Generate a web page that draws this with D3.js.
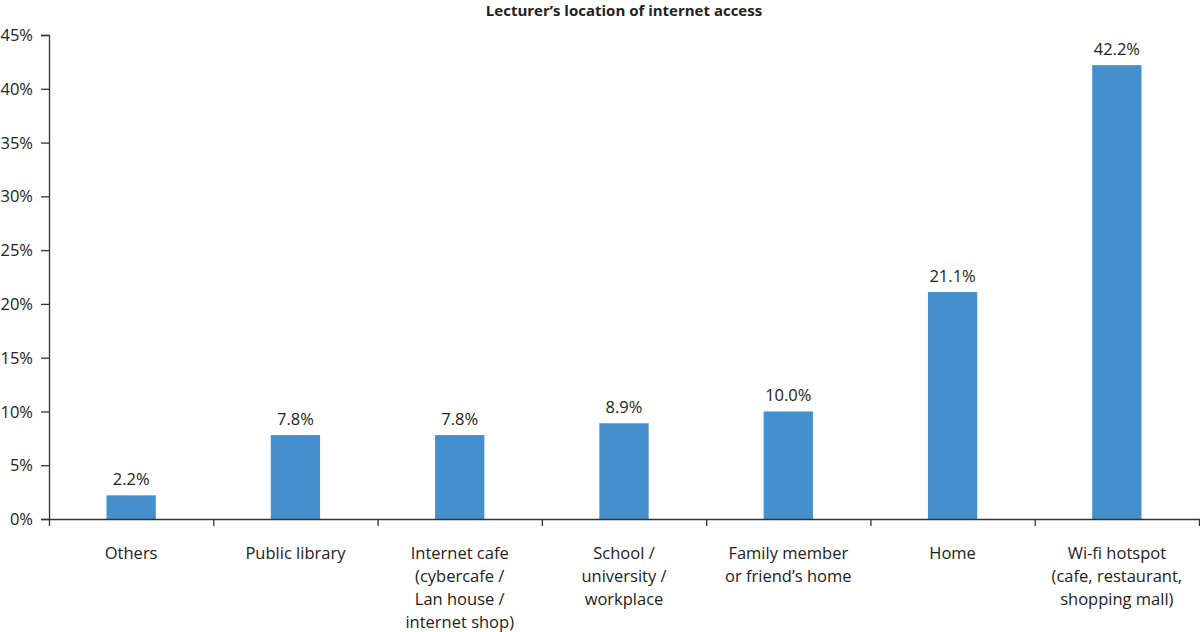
<!DOCTYPE html>
<html>
<head>
<meta charset="utf-8">
<script src="https://cdn.jsdelivr.net/npm/d3@7"></script>
<style>
  body { margin: 0; background: #fff; }
  text { font-family: "Open Sans", sans-serif; fill: #222; }
</style>
</head>
<body>
<div id="chart"></div>
<script>
const categories = [
  ["Others"],
  ["Public library"],
  ["Internet cafe", "(cybercafe /", "Lan house /", "internet shop)"],
  ["School /", "university /", "workplace"],
  ["Family member", "or friend\u2019s home"],
  ["Home"],
  ["Wi-fi hotspot", "(cafe, restaurant,", "shopping mall)"]
];
const values = [2.2, 7.8, 7.8, 8.9, 10.0, 21.1, 42.2];
const yTicks = [0, 5, 10, 15, 20, 25, 30, 35, 40, 45];

const w = 1200;
const h = 632;
const plotLeft = 49, plotRight = 1199, plotTop = 35, plotBottom = 519;

const svg = d3.select("#chart").append("svg").attr("width", w).attr("height", h);

svg.append("text")
  .attr("x", (plotLeft + plotRight) / 2)
  .attr("y", 16)
  .attr("text-anchor", "middle")
  .style("font-size", "15px")
  .style("font-weight", "bold")
  .text("Lecturer\u2019s location of internet access");

const x = d3.scaleBand()
  .domain(d3.range(categories.length))
  .range([plotLeft, plotRight])
  .paddingInner(0.7)
  .paddingOuter(0.35);

const y = d3.scaleLinear().domain([0, 45]).range([plotBottom, plotTop]);

// y axis
const yAxis = svg.append("g")
  .attr("transform", `translate(${plotLeft},0)`)
  .call(d3.axisLeft(y).tickValues(yTicks).tickFormat((d) => d + "%").tickSize(8).tickPadding(8));
yAxis.select(".domain").attr("stroke", "#333").attr("stroke-width", 1.3);
yAxis.selectAll(".tick line").attr("stroke", "#333").attr("stroke-width", 1.3);
yAxis.selectAll("text").style("font-size", "16.5px").style("fill", "#222").attr("dy", "0.34em");

// bars
svg.append("g")
  .selectAll("rect")
  .data(values)
  .enter()
  .append("rect")
  .attr("x", (d, i) => x(i))
  .attr("y", (d) => y(d))
  .attr("width", x.bandwidth())
  .attr("height", (d) => y(0) - y(d))
  .attr("fill", "#458fcd");

svg.append("g")
  .selectAll("text")
  .data(values)
  .enter()
  .append("text")
  .attr("x", (d, i) => x(i) + x.bandwidth() / 2)
  .attr("y", (d) => y(d) - 10)
  .attr("text-anchor", "middle")
  .style("font-size", "16.5px")
  .text((d) => d.toFixed(1) + "%");

// x axis with ticks at band boundaries
const xb = d3.scaleLinear().domain([0, categories.length]).range([plotLeft, plotRight]);
const xAxis = svg.append("g")
  .attr("transform", `translate(0,${plotBottom})`)
  .call(d3.axisBottom(xb).tickValues(d3.range(categories.length + 1)).tickFormat("").tickSize(7).tickSizeOuter(0));
xAxis.select(".domain").attr("stroke", "#333").attr("stroke-width", 1.3);
xAxis.selectAll(".tick line").attr("stroke", "#333").attr("stroke-width", 1.3);

// category labels
const labels = svg.append("g")
  .selectAll("text")
  .data(categories)
  .enter()
  .append("text")
  .attr("text-anchor", "middle")
  .attr("x", (d, i) => x(i) + x.bandwidth() / 2)
  .attr("y", 559)
  .style("font-size", "16.5px");
labels.selectAll("tspan")
  .data((d) => d)
  .enter()
  .append("tspan")
  .attr("x", function () { return this.parentNode.getAttribute("x"); })
  .attr("dy", (d, i) => (i === 0 ? 0 : 23))
  .text((d) => d);
</script>
</body>
</html>
